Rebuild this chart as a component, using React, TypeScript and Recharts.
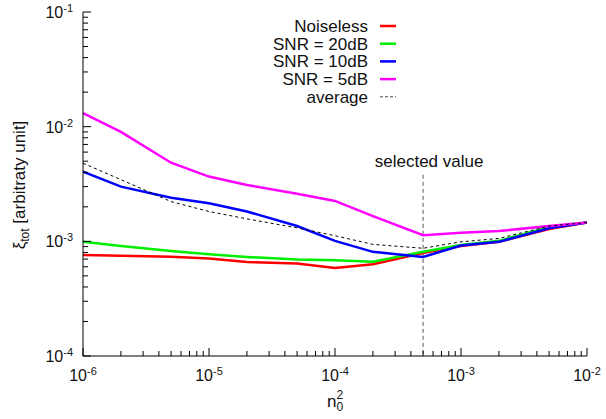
import { LineChart, Line, XAxis, YAxis, ReferenceLine, Legend } from "recharts";

// n0^2 sample points
const N0SQ = [1e-6, 2e-6, 5e-6, 1e-5, 2e-5, 5e-5, 1e-4, 2e-4, 5e-4, 1e-3, 2e-3, 5e-3, 1e-2];
const NOISELESS = [7.6e-4, 7.5e-4, 7.35e-4, 7.1e-4, 6.6e-4, 6.4e-4, 5.85e-4, 6.3e-4, 7.9e-4, 9.1e-4, 9.9e-4, 1.28e-3, 1.46e-3];
const SNR20 = [9.9e-4, 9.1e-4, 8.25e-4, 7.7e-4, 7.3e-4, 6.95e-4, 6.85e-4, 6.65e-4, 8.1e-4, 9.3e-4, 1.01e-3, 1.33e-3, 1.46e-3];
const SNR10 = [4.05e-3, 3.0e-3, 2.4e-3, 2.15e-3, 1.82e-3, 1.36e-3, 1.01e-3, 8.1e-4, 7.3e-4, 9.2e-4, 9.9e-4, 1.3e-3, 1.46e-3];
const SNR5 = [1.31e-2, 9.0e-3, 4.85e-3, 3.67e-3, 3.1e-3, 2.6e-3, 2.25e-3, 1.66e-3, 1.13e-3, 1.19e-3, 1.23e-3, 1.36e-3, 1.46e-3];
const AVERAGE = [4.8e-3, 3.45e-3, 2.22e-3, 1.82e-3, 1.57e-3, 1.31e-3, 1.12e-3, 9.4e-4, 8.7e-4, 9.9e-4, 1.06e-3, 1.36e-3, 1.46e-3];

const X_DECADES = [1e-6, 1e-5, 1e-4, 1e-3, 1e-2];
const Y_DECADES = [1e-4, 1e-3, 1e-2, 1e-1];
const MINOR = [1, 2, 3, 4, 5, 6, 7, 8, 9];

const SELECTED = 5e-4;
const SELECTED_TOP = 3.8e-3;

const SERIES = [
  { key: "noiseless", name: "Noiseless", color: "#ff0000", dash: undefined as string | undefined },
  { key: "snr20", name: "SNR = 20dB", color: "#00ee00", dash: undefined },
  { key: "snr10", name: "SNR = 10dB", color: "#0000ff", dash: undefined },
  { key: "snr5", name: "SNR = 5dB", color: "#ff00ff", dash: undefined },
  { key: "average", name: "average", color: "#000000", dash: "3 3" },
];

const data = N0SQ.map((x, i) => ({
  x,
  noiseless: NOISELESS[i],
  snr20: SNR20[i],
  snr10: SNR10[i],
  snr5: SNR5[i],
  average: AVERAGE[i],
}));

const withMinors = (decades: number[]) =>
  decades.flatMap((d, i) => (i === decades.length - 1 ? [d] : MINOR.map(m => m * d)));
const X_TICKS = withMinors(X_DECADES);
const Y_TICKS = withMinors(Y_DECADES);

const FONT = '"Liberation Sans", Arial, Helvetica, sans-serif';
const INK = "#111";
const isMajor = (v: number) => Math.abs(Math.log10(v) - Math.round(Math.log10(v))) < 1e-9;
const exp = (v: number) => String(Math.round(Math.log10(v)));
const len = (v: number) => (isMajor(v) ? 8 : 5);

function BottomTick({ x, y, payload }: any) {
  const v = payload.value;
  return (
    <g>
      <line x1={x} x2={x} y1={y} y2={y - len(v)} stroke="#000" />
      {isMajor(v) && (
        <text x={x} y={y + 25} textAnchor="middle" fontSize={16} fontFamily={FONT} fill={INK}>
          10<tspan dy={-6} fontSize={11}>{exp(v)}</tspan>
        </text>
      )}
    </g>
  );
}
function TopTick({ x, y, payload }: any) {
  return <line x1={x} x2={x} y1={y} y2={y + len(payload.value)} stroke="#000" />;
}
function LeftTick({ x, y, payload }: any) {
  const v = payload.value;
  return (
    <g>
      <line x1={x} x2={x + len(v)} y1={y} y2={y} stroke="#000" />
      {isMajor(v) && (
        <text x={x - 10} y={y + 6} textAnchor="end" fontSize={16} fontFamily={FONT} fill={INK}>
          10<tspan dy={-6} fontSize={11}>{exp(v)}</tspan>
        </text>
      )}
    </g>
  );
}
function RightTick({ x, y, payload }: any) {
  return <line x1={x} x2={x - len(payload.value)} y1={y} y2={y} stroke="#000" />;
}

function LegendBox() {
  return (
    <svg width={606} height={110} style={{ display: "block" }}>
      {SERIES.map((s, i) => {
        const cy = 26 + i * 17.7;
        return (
          <g key={s.key}>
            <text x={368} y={cy + 6} textAnchor="end" fontSize={17} fontFamily={FONT} fill={INK}>{s.name}</text>
            <line x1={380} x2={396} y1={cy} y2={cy} stroke={s.dash ? "#444" : s.color}
              strokeWidth={s.dash ? 1 : 2.5} strokeDasharray={s.dash ? "3 2" : undefined} />
          </g>
        );
      })}
    </svg>
  );
}

export default function App() {
  return (
    <>
      <style>{"body{margin:0}"}</style>
      <LineChart width={606} height={419} data={data} margin={{ top: 12, right: 19, left: 0, bottom: 0 }}>
        <XAxis dataKey="x" type="number" scale="log" domain={[1e-6, 1e-2]} allowDataOverflow ticks={X_TICKS}
          interval={0} tick={<BottomTick />} tickLine={false} tickSize={0} tickMargin={0} height={63}
          axisLine={{ stroke: "#000" }}
          label={({ viewBox }: any) => {
            const cx = viewBox.x + viewBox.width / 2;
            return (
              <text x={cx - 8} y={407} fontSize={17} fontFamily={FONT} fill={INK}>
                n<tspan dy={-8} fontSize={12}>2</tspan><tspan dx={-6.7} dy={12} fontSize={12}>0</tspan>
              </text>
            );
          }} />
        <XAxis xAxisId="top" dataKey="x" orientation="top" type="number" scale="log" domain={[1e-6, 1e-2]}
          allowDataOverflow ticks={X_TICKS} interval={0} tick={<TopTick />} tickLine={false} tickSize={0}
          tickMargin={0} height={0} axisLine={{ stroke: "#000" }} />
        <YAxis type="number" scale="log" domain={[1e-4, 1e-1]} allowDataOverflow ticks={Y_TICKS} interval={0}
          tick={<LeftTick />} tickLine={false} tickSize={0} tickMargin={0} width={83} axisLine={{ stroke: "#000" }}
          label={({ viewBox }: any) => {
            const cx = 25;
            const cy = viewBox.y + viewBox.height / 2 + 1;
            return (
              <text x={cx} y={cy} transform={`rotate(-90 ${cx} ${cy})`} textAnchor="middle" fontSize={17}
                fontFamily={FONT} fill={INK}>
                ξ<tspan dy={4} fontSize={12}>tot</tspan><tspan dy={-4}> [arbitraty unit]</tspan>
              </text>
            );
          }} />
        <YAxis yAxisId="right" orientation="right" type="number" scale="log" domain={[1e-4, 1e-1]} allowDataOverflow
          ticks={Y_TICKS} interval={0} tick={<RightTick />} tickLine={false} tickSize={0} tickMargin={0} width={0}
          axisLine={{ stroke: "#000" }} />
        <ReferenceLine segment={[{ x: SELECTED, y: SELECTED_TOP }, { x: SELECTED, y: 1e-4 }]} stroke="#555"
          strokeDasharray="4 3" ifOverflow="visible"
          label={({ viewBox }: any) => (
            <text x={viewBox.x + 6} y={viewBox.y - 8} textAnchor="middle" fontSize={17} fontFamily={FONT} fill={INK}>
              selected value
            </text>
          )} />
        {SERIES.map(s => (
          <Line key={s.key} type="linear" dataKey={s.key} name={s.name} stroke={s.color}
            strokeWidth={s.dash ? 1 : 2.5} strokeDasharray={s.dash} dot={false} isAnimationActive={false} />
        ))}
        <Legend layout="vertical" align="center" verticalAlign="middle"
          wrapperStyle={{ position: "absolute", top: 0, left: 0, width: 606, height: 110 }}
          content={() => <LegendBox />} />
      </LineChart>
    </>
  );
}
